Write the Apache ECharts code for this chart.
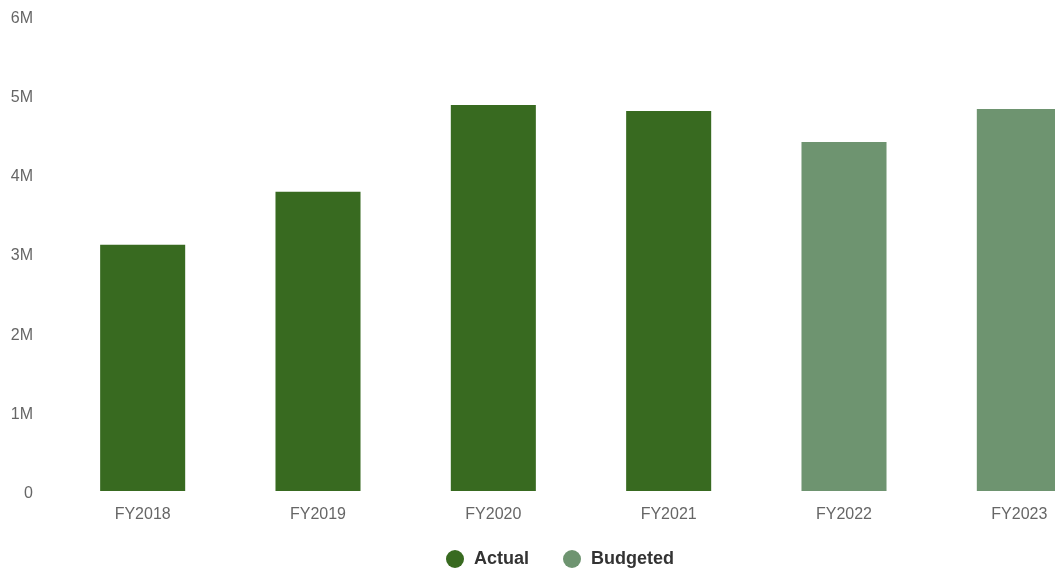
<!DOCTYPE html>
<html>
<head>
<meta charset="utf-8">
<script src="https://cdn.jsdelivr.net/npm/echarts@6/dist/echarts.min.js"></script>
<style>
  html, body { margin: 0; padding: 0; background: #ffffff; overflow: hidden; width: 1055px; height: 572px; }
  /* the chart canvas is wider than the viewport, so its right edge is cut off */
  #chart { width: 1120px; height: 572px; }
</style>
</head>
<body>
<div id="chart"></div>
<script>
// Fiscal years shown on the category axis
const fiscalYears = ['FY2018', 'FY2019', 'FY2020', 'FY2021', 'FY2022', 'FY2023'];
// Actual spend (closed years) and budgeted spend (open years), in dollars
const actualValues = [3110000, 3780000, 4875000, 4800000, '-', '-'];
const budgetedValues = ['-', '-', '-', '-', 4410000, 4825000];
// Value-axis range
const yMin = 0;
const yMax = 6000000;
const yStep = 1000000;

const FONT = '"Liberation Sans", Arial, Helvetica, sans-serif';
const chart = echarts.init(document.getElementById('chart'), null, { renderer: 'canvas' });

function formatMillions(v) {
  return '{v|' + (v === 0 ? '0' : (v / 1000000) + 'M') + '}';
}

chart.setOption({
  animation: false,
  textStyle: { fontFamily: FONT },
  grid: { left: 55, right: 13, top: 16, bottom: 81, containLabel: false },
  legend: {
    data: ['Actual', 'Budgeted'],
    left: 'center',
    top: 545,
    icon: 'circle',
    itemWidth: 18,
    itemHeight: 18,
    itemGap: 34,
    textStyle: {
      fontFamily: FONT,
      fontSize: 18,
      fontWeight: 'bold',
      color: '#333333',
      padding: [0, 0, 0, 5]
    }
  },
  xAxis: {
    type: 'category',
    data: fiscalYears,
    axisLine: { show: false },
    axisTick: { show: false },
    splitLine: { show: false },
    axisLabel: { color: '#666666', fontSize: 16, fontFamily: FONT, margin: 16 }
  },
  yAxis: {
    type: 'value',
    min: yMin,
    max: yMax,
    interval: yStep,
    axisLine: { show: false },
    axisTick: { show: false },
    splitLine: { show: false },
    axisLabel: {
      margin: 22,
      formatter: formatMillions,
      rich: {
        v: {
          color: '#666666',
          fontSize: 16,
          fontFamily: FONT,
          lineHeight: 16,
          padding: [5, 0, 0, 0]
        }
      }
    }
  },
  series: [
    {
      name: 'Actual',
      type: 'bar',
      stack: 'spend',
      barWidth: '48.5%',
      itemStyle: { color: '#386a20' },
      data: actualValues
    },
    {
      name: 'Budgeted',
      type: 'bar',
      stack: 'spend',
      barWidth: '48.5%',
      itemStyle: { color: '#6e9470' },
      data: budgetedValues
    }
  ]
});
</script>
</body>
</html>
